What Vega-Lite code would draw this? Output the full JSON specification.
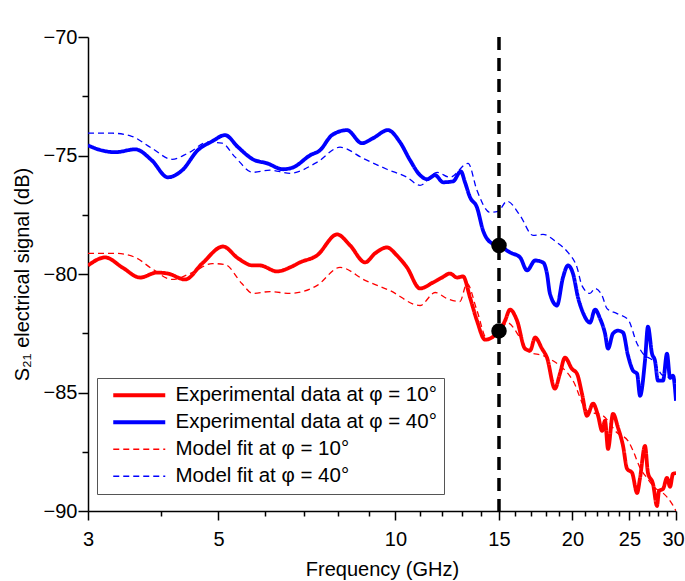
{
  "$schema": "https://vega.github.io/schema/vega-lite/v6.json",
  "width": 588,
  "height": 474,
  "autosize": "none",
  "padding": {"left": 88, "top": 37, "right": 9, "bottom": 70},
  "config": {
    "font": "Liberation Sans",
    "view": {"stroke": null},
    "axis": {
      "domainColor": "black", "tickColor": "black", "labelColor": "black", "titleColor": "black",
      "grid": false, "labelFontSize": 20, "titleFontSize": 20, "titleFontWeight": "normal",
      "domainWidth": 1.5, "tickWidth": 1.5, "labelFont": "Liberation Sans", "titleFont": "Liberation Sans"
    }
  },
  "layer": [
    {
      "data": {"values": [
        {"s":"E40","f":3.00,"v":-74.57},{"s":"E40","f":3.12,"v":-74.74},{"s":"E40","f":3.34,"v":-74.86},{"s":"E40","f":3.61,"v":-74.74},{"s":"E40","f":3.85,"v":-75.20},{"s":"E40","f":4.10,"v":-75.92},{"s":"E40","f":4.34,"v":-75.62},{"s":"E40","f":4.61,"v":-74.78},{"s":"E40","f":4.88,"v":-74.40},{"s":"E40","f":5.13,"v":-74.14},{"s":"E40","f":5.40,"v":-74.65},{"s":"E40","f":5.72,"v":-75.16},{"s":"E40","f":6.05,"v":-75.33},{"s":"E40","f":6.44,"v":-75.58},{"s":"E40","f":6.70,"v":-75.50},{"s":"E40","f":7.16,"v":-74.99},{"s":"E40","f":7.44,"v":-74.78},{"s":"E40","f":7.80,"v":-74.14},{"s":"E40","f":8.27,"v":-73.93},{"s":"E40","f":8.77,"v":-74.48},{"s":"E40","f":9.16,"v":-74.27},{"s":"E40","f":9.71,"v":-73.93},{"s":"E40","f":10.18,"v":-74.44},{"s":"E40","f":10.59,"v":-75.20},{"s":"E40","f":11.01,"v":-75.83},{"s":"E40","f":11.32,"v":-76.00},{"s":"E40","f":11.68,"v":-75.83},{"s":"E40","f":12.05,"v":-76.13},{"s":"E40","f":12.53,"v":-76.09},{"s":"E40","f":12.92,"v":-75.67},{"s":"E40","f":13.13,"v":-76.13},{"s":"E40","f":13.39,"v":-76.76},{"s":"E40","f":13.76,"v":-77.19},{"s":"E40","f":14.09,"v":-78.16},{"s":"E40","f":14.60,"v":-78.71},{"s":"E40","f":15.0,"v":-78.8},{"s":"E40","f":15.66,"v":-79.09},{"s":"E40","f":16.29,"v":-79.30},{"s":"E40","f":16.74,"v":-79.85},{"s":"E40","f":17.28,"v":-79.43},{"s":"E40","f":17.82,"v":-79.51},{"s":"E40","f":18.10,"v":-79.98},{"s":"E40","f":18.31,"v":-80.82},{"s":"E40","f":18.82,"v":-81.33},{"s":"E40","f":19.27,"v":-80.15},{"s":"E40","f":19.65,"v":-79.64},{"s":"E40","f":20.04,"v":-79.98},{"s":"E40","f":20.44,"v":-80.99},{"s":"E40","f":20.84,"v":-81.63},{"s":"E40","f":21.42,"v":-82.05},{"s":"E40","f":21.85,"v":-81.50},{"s":"E40","f":22.28,"v":-81.88},{"s":"E40","f":22.72,"v":-82.51},{"s":"E40","f":22.99,"v":-83.15},{"s":"E40","f":23.44,"v":-82.51},{"s":"E40","f":23.91,"v":-82.39},{"s":"E40","f":24.38,"v":-82.47},{"s":"E40","f":24.86,"v":-83.44},{"s":"E40","f":25.36,"v":-84.08},{"s":"E40","f":25.76,"v":-84.21},{"s":"E40","f":26.06,"v":-85.14},{"s":"E40","f":26.57,"v":-83.66},{"s":"E40","f":26.88,"v":-82.22},{"s":"E40","f":27.31,"v":-83.36},{"s":"E40","f":27.63,"v":-83.66},{"s":"E40","f":27.96,"v":-84.50},{"s":"E40","f":28.51,"v":-84.50},{"s":"E40","f":28.96,"v":-83.36},{"s":"E40","f":29.31,"v":-84.38},{"s":"E40","f":29.65,"v":-84.29},{"s":"E40","f":30.0,"v":-85.35},
        {"s":"M40","f":3.00,"v":-74.06},{"s":"M40","f":3.30,"v":-74.06},{"s":"M40","f":3.56,"v":-74.19},{"s":"M40","f":3.85,"v":-74.69},{"s":"M40","f":4.17,"v":-75.16},{"s":"M40","f":4.44,"v":-74.90},{"s":"M40","f":4.80,"v":-74.44},{"s":"M40","f":5.07,"v":-74.48},{"s":"M40","f":5.34,"v":-75.07},{"s":"M40","f":5.72,"v":-75.71},{"s":"M40","f":6.12,"v":-75.62},{"s":"M40","f":6.62,"v":-75.75},{"s":"M40","f":7.35,"v":-75.29},{"s":"M40","f":8.05,"v":-74.65},{"s":"M40","f":8.81,"v":-75.12},{"s":"M40","f":9.67,"v":-75.58},{"s":"M40","f":10.46,"v":-75.92},{"s":"M40","f":11.01,"v":-76.26},{"s":"M40","f":11.77,"v":-75.71},{"s":"M40","f":12.38,"v":-75.92},{"s":"M40","f":13.29,"v":-75.33},{"s":"M40","f":13.76,"v":-76.47},{"s":"M40","f":14.48,"v":-77.40},{"s":"M40","f":14.94,"v":-77.36},{"s":"M40","f":15.48,"v":-76.93},{"s":"M40","f":16.29,"v":-77.53},{"s":"M40","f":17.14,"v":-78.37},{"s":"M40","f":17.82,"v":-78.33},{"s":"M40","f":18.82,"v":-78.67},{"s":"M40","f":19.65,"v":-79.09},{"s":"M40","f":20.36,"v":-79.72},{"s":"M40","f":20.76,"v":-80.49},{"s":"M40","f":21.42,"v":-80.82},{"s":"M40","f":21.85,"v":-80.61},{"s":"M40","f":22.46,"v":-80.91},{"s":"M40","f":22.90,"v":-81.46},{"s":"M40","f":23.82,"v":-81.67},{"s":"M40","f":24.86,"v":-81.92},{"s":"M40","f":25.76,"v":-82.94},{"s":"M40","f":26.36,"v":-83.36},{"s":"M40","f":27.42,"v":-83.66},{"s":"M40","f":28.51,"v":-84.29},{"s":"M40","f":29.65,"v":-84.38},
        {"s":"E10","f":3.00,"v":-79.64},{"s":"E10","f":3.21,"v":-79.30},{"s":"E10","f":3.43,"v":-79.72},{"s":"E10","f":3.68,"v":-80.15},{"s":"E10","f":3.93,"v":-79.94},{"s":"E10","f":4.10,"v":-79.98},{"s":"E10","f":4.39,"v":-80.23},{"s":"E10","f":4.69,"v":-79.56},{"s":"E10","f":5.09,"v":-78.84},{"s":"E10","f":5.40,"v":-79.34},{"s":"E10","f":5.72,"v":-79.64},{"s":"E10","f":5.88,"v":-79.64},{"s":"E10","f":6.29,"v":-79.89},{"s":"E10","f":6.62,"v":-79.72},{"s":"E10","f":6.88,"v":-79.51},{"s":"E10","f":7.35,"v":-79.22},{"s":"E10","f":7.96,"v":-78.33},{"s":"E10","f":8.37,"v":-78.79},{"s":"E10","f":8.88,"v":-79.51},{"s":"E10","f":9.23,"v":-79.13},{"s":"E10","f":9.67,"v":-78.88},{"s":"E10","f":10.06,"v":-79.22},{"s":"E10","f":10.46,"v":-79.72},{"s":"E10","f":11.01,"v":-80.61},{"s":"E10","f":11.58,"v":-80.36},{"s":"E10","f":12.00,"v":-80.15},{"s":"E10","f":12.38,"v":-79.98},{"s":"E10","f":12.73,"v":-80.15},{"s":"E10","f":13.03,"v":-80.10},{"s":"E10","f":13.39,"v":-80.99},{"s":"E10","f":13.76,"v":-81.97},{"s":"E10","f":14.20,"v":-82.77},{"s":"E10","f":15.0,"v":-82.4},{"s":"E10","f":15.36,"v":-81.97},{"s":"E10","f":15.66,"v":-81.50},{"s":"E10","f":16.10,"v":-81.97},{"s":"E10","f":16.61,"v":-83.15},{"s":"E10","f":16.94,"v":-83.23},{"s":"E10","f":17.28,"v":-82.68},{"s":"E10","f":17.75,"v":-83.15},{"s":"E10","f":18.10,"v":-83.53},{"s":"E10","f":18.67,"v":-84.84},{"s":"E10","f":19.04,"v":-84.21},{"s":"E10","f":19.42,"v":-83.53},{"s":"E10","f":19.96,"v":-84.00},{"s":"E10","f":20.36,"v":-84.21},{"s":"E10","f":20.76,"v":-85.05},{"s":"E10","f":21.17,"v":-85.98},{"s":"E10","f":21.68,"v":-85.47},{"s":"E10","f":22.11,"v":-85.98},{"s":"E10","f":22.46,"v":-86.62},{"s":"E10","f":22.72,"v":-86.19},{"s":"E10","f":22.99,"v":-87.38},{"s":"E10","f":23.44,"v":-85.90},{"s":"E10","f":23.91,"v":-86.49},{"s":"E10","f":24.38,"v":-87.25},{"s":"E10","f":24.77,"v":-88.22},{"s":"E10","f":25.26,"v":-88.39},{"s":"E10","f":25.76,"v":-89.24},{"s":"E10","f":26.06,"v":-88.60},{"s":"E10","f":26.57,"v":-87.25},{"s":"E10","f":26.88,"v":-88.39},{"s":"E10","f":27.42,"v":-88.86},{"s":"E10","f":27.85,"v":-89.79},{"s":"E10","f":28.07,"v":-89.15},{"s":"E10","f":28.51,"v":-89.07},{"s":"E10","f":28.96,"v":-88.60},{"s":"E10","f":29.31,"v":-88.98},{"s":"E10","f":29.65,"v":-88.43},{"s":"E10","f":30.0,"v":-88.4},
        {"s":"M10","f":3.00,"v":-79.13},{"s":"M10","f":3.34,"v":-79.13},{"s":"M10","f":3.61,"v":-79.30},{"s":"M10","f":3.85,"v":-79.77},{"s":"M10","f":4.17,"v":-80.23},{"s":"M10","f":4.51,"v":-79.94},{"s":"M10","f":4.88,"v":-79.56},{"s":"M10","f":5.13,"v":-79.60},{"s":"M10","f":5.48,"v":-80.40},{"s":"M10","f":5.72,"v":-80.82},{"s":"M10","f":6.12,"v":-80.74},{"s":"M10","f":6.62,"v":-80.82},{"s":"M10","f":7.35,"v":-80.49},{"s":"M10","f":8.05,"v":-79.72},{"s":"M10","f":8.88,"v":-80.27},{"s":"M10","f":9.79,"v":-80.70},{"s":"M10","f":11.01,"v":-81.33},{"s":"M10","f":11.68,"v":-80.78},{"s":"M10","f":12.24,"v":-81.04},{"s":"M10","f":12.87,"v":-81.16},{"s":"M10","f":13.23,"v":-80.40},{"s":"M10","f":13.76,"v":-81.54},{"s":"M10","f":14.31,"v":-82.73},{"s":"M10","f":14.89,"v":-82.68},{"s":"M10","f":15.48,"v":-82.05},{"s":"M10","f":16.29,"v":-82.68},{"s":"M10","f":16.94,"v":-83.32},{"s":"M10","f":17.82,"v":-83.44},{"s":"M10","f":18.53,"v":-83.66},{"s":"M10","f":20.04,"v":-84.50},{"s":"M10","f":21.17,"v":-85.77},{"s":"M10","f":22.54,"v":-85.98},{"s":"M10","f":23.82,"v":-86.70},{"s":"M10","f":24.86,"v":-87.04},{"s":"M10","f":25.36,"v":-87.46},{"s":"M10","f":26.06,"v":-88.18},{"s":"M10","f":26.78,"v":-88.60},{"s":"M10","f":27.63,"v":-89.03},{"s":"M10","f":28.51,"v":-89.24},{"s":"M10","f":29.54,"v":-89.70},{"s":"M10","f":30.0,"v":-90.0}
      ]},
      "mark": {"type": "line", "clip": true, "interpolate": "monotone"},
      "encoding": {
        "x": {
          "field": "f", "type": "quantitative",
          "scale": {"type": "log", "domain": [3, 30], "nice": false},
          "axis": {
            "title": "Frequency (GHz)",
            "values": [3,4,5,6,7,8,9,10,11,12,13,14,15,16,17,18,19,20,21,22,23,24,25,26,27,28,29,30],
            "labelExpr": "indexof([3,5,10,15,20,25,30], datum.value) >= 0 ? datum.label : ''",
            "format": "d",
            "labelOverlap": false, "labelFlush": false, "labelBound": false,
            "tickSize": {"condition": {"test": "indexof([3,5,10,15,20,25,30], datum.value) >= 0", "value": 9}, "value": 5},
            "labelOffset": {"condition": {"test": "datum.value == 30", "value": -3}, "value": 0},
            "labelPadding": 9,
            "titlePadding": 10
          }
        },
        "y": {
          "field": "v", "type": "quantitative",
          "scale": {"domain": [-90, -70], "nice": false, "zero": false},
          "axis": {
            "title": "S₂₁ electrical signal (dB)",
            "values": [-90,-87.5,-85,-82.5,-80,-77.5,-75,-72.5,-70],
            "format": ".0f",
            "labelExpr": "datum.value % 5 == 0 ? datum.label : ''",
            "labelOverlap": false, "labelFlush": false, "labelBound": false,
            "tickSize": {"condition": {"test": "datum.value % 5 == 0", "value": 10}, "value": 6},
            "labelPadding": 1,
            "titlePadding": 11
          }
        },
        "color": {
          "field": "s", "type": "nominal",
          "scale": {"domain": ["E10","E40","M10","M40"], "range": ["#ff0000","#0000ff","#ff0000","#0000ff"]},
          "legend": {
            "title": null,
            "orient": "none", "legendX": 9, "legendY": 341,
            "strokeColor": "#555555",
            "padding": 7,
            "rowPadding": 6,
            "symbolType": "M-2.6,0H2.6",
            "symbolSize": 400,
            "symbolOffset": 25,
            "labelFontSize": 20.5,
            "labelFont": "Liberation Sans",
            "labelColor": "black",
            "labelOffset": 26,
            "labelLimit": 400,
            "labelExpr": "datum.label == 'E10' ? 'Experimental data at φ = 10°' : datum.label == 'E40' ? 'Experimental data at φ = 40°' : datum.label == 'M10' ? 'Model fit at φ = 10°' : 'Model fit at φ = 40°'",
            "encode": {
              "symbols": {"update": {"strokeWidth": {"signal": "datum.value == 'E10' || datum.value == 'E40' ? 3.8 : 1.3"}}}
            }
          }
        },
        "strokeDash": {
          "field": "s", "type": "nominal",
          "scale": {"domain": ["E10","E40","M10","M40"], "range": [[1,0],[1,0],[6,4],[6,4]]}
        },
        "strokeWidth": {"condition": {"test": "datum.s == 'E10' || datum.s == 'E40'", "value": 3.8}, "value": 1.3}
      }
    },
    {
      "data": {"values": [{"f": 15}]},
      "mark": {"type": "rule", "color": "black", "strokeWidth": 3.5, "strokeDash": [13, 8]},
      "encoding": {"x": {"field": "f", "type": "quantitative"}}
    },
    {
      "data": {"values": [{"f": 15, "v": -78.8}, {"f": 15, "v": -82.4}]},
      "mark": {"type": "point", "filled": true, "color": "black", "opacity": 1, "size": 240},
      "encoding": {"x": {"field": "f", "type": "quantitative"}, "y": {"field": "v", "type": "quantitative"}}
    }
  ]
}
